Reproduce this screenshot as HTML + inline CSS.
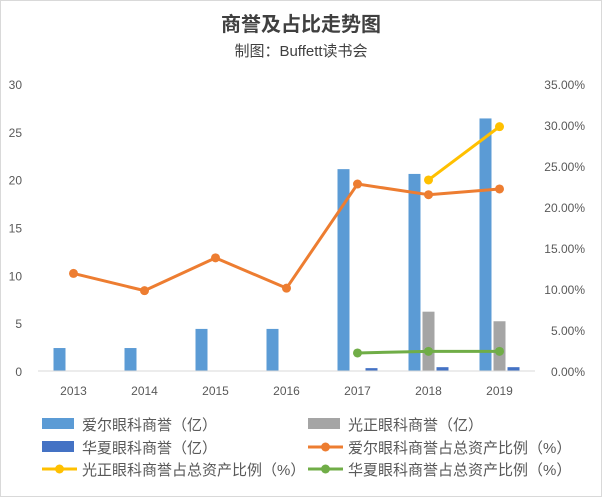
<!DOCTYPE html>
<html><head><meta charset="utf-8"><style>
body{margin:0;background:#fff}
svg{font-family:"Liberation Sans","Noto Sans CJK SC",sans-serif;display:block}
</style></head><body>
<svg id="c" width="602" height="497" viewBox="0 0 602 497">
<rect x="0.5" y="0.5" width="601" height="496" fill="#fff" stroke="#d9d9d9"/>
<text x="301" y="31" text-anchor="middle" font-size="20" font-weight="bold" fill="#404040">商誉及占比走势图</text>
<text x="301" y="56" text-anchor="middle" font-size="15" fill="#404040">制图：Buffett读书会</text>
<g id="grid"></g><g id="bars"></g><g id="lines"></g><g id="axes"></g><g id="legend"></g>
</svg>
<script>
const years=["2013","2014","2015","2016","2017","2018","2019"];
const aierGw=[2.4,2.4,4.4,4.4,21.1,20.6,26.4];
const gzGw=[null,null,null,null,null,6.2,5.2];
const hxGw=[null,null,null,null,0.3,0.4,0.4];
const aierPct=[11.9,9.8,13.8,10.1,22.8,21.5,22.2];
const gzPct=[null,null,null,null,null,23.3,29.8];
const hxPct=[null,null,null,null,2.2,2.4,2.4];
const leftTicks=[0,5,10,15,20,25,30];
const rightTicks=[0,5,10,15,20,25,30,35];
const NS="http://www.w3.org/2000/svg";
const X0=38,X1=535,Y0=371,Y1=84;
const step=(X1-X0)/years.length;
const xc=i=>X0+step*(i+0.5);
const yL=v=>Y0-(v/30)*(Y0-Y1);
const yR=v=>Y0-(v/35)*(Y0-Y1);
function mk(t,a,p){const e=document.createElementNS(NS,t);for(const k in a)e.setAttribute(k,a[k]);p.appendChild(e);return e;}
const axes=document.getElementById('axes');
leftTicks.forEach(v=>{const t=mk('text',{x:22,y:yL(v)+5,'text-anchor':'end','font-size':12,fill:'#595959'},axes);t.textContent=v;

});
rightTicks.forEach(v=>{const t=mk('text',{x:585,y:yR(v)+5,'text-anchor':'end','font-size':12,fill:'#595959'},axes);t.textContent=v.toFixed(2)+'%';

});
const ax=mk('line',{x1:X0,x2:X1,y1:Y0,y2:Y0,stroke:'#d9d9d9'},axes);


years.forEach((y,i)=>{const t=mk('text',{x:xc(i),y:395,'text-anchor':'middle','font-size':12,fill:'#595959'},axes);t.textContent=y;

});
const bars=document.getElementById('bars');
const bw=12;
[[aierGw,'#5b9bd5',-14,'bar-aier'],[gzGw,'#a5a5a5',0,'bar-guangzheng'],[hxGw,'#4472c4',14,'bar-huaxia']].forEach(([arr,c,off,n])=>{
arr.forEach((v,i)=>{if(v==null)return;const r=mk('rect',{x:xc(i)+off-bw/2,y:yL(v),width:bw,height:Y0-yL(v),fill:c},bars);

});});
const lines=document.getElementById('lines');
[[aierPct,'#ed7d31','line-aier-pct'],[gzPct,'#ffc000','line-guangzheng-pct'],[hxPct,'#70ad47','line-huaxia-pct']].forEach(([arr,c,n])=>{
const pts=[];arr.forEach((v,i)=>{if(v!=null)pts.push([xc(i),yR(v)]);});
const pl=mk('polyline',{points:pts.map(p=>p.join(',')).join(' '),fill:'none',stroke:c,'stroke-width':3,'stroke-linejoin':'round'},lines);


pts.forEach(p=>{const m=mk('circle',{cx:p[0],cy:p[1],r:4.5,fill:c},lines);

});});
const lg=document.getElementById('legend');
const items=[['rect','#5b9bd5','爱尔眼科商誉（亿）',42,424],['rect','#a5a5a5','光正眼科商誉（亿）',308,424],
['rect','#4472c4','华夏眼科商誉（亿）',42,447],['line','#ed7d31','爱尔眼科商誉占总资产比例（%）',308,447],
['line','#ffc000','光正眼科商誉占总资产比例（%）',42,469],['line','#70ad47','华夏眼科商誉占总资产比例（%）',308,469]];
items.forEach(([k,c,txt,x,y])=>{const g=mk('g',{},lg);


if(k==='rect')mk('rect',{x:x,y:y-6,width:32,height:11,fill:c},g);
else{mk('line',{x1:x,x2:x+35,y1:y,y2:y,stroke:c,'stroke-width':3},g);mk('circle',{cx:x+17.5,cy:y,r:4.5,fill:c},g);}
const t=mk('text',{x:x+40,y:y+6,'font-size':15,fill:'#595959'},g);t.textContent=txt;});
</script>
</body></html>
